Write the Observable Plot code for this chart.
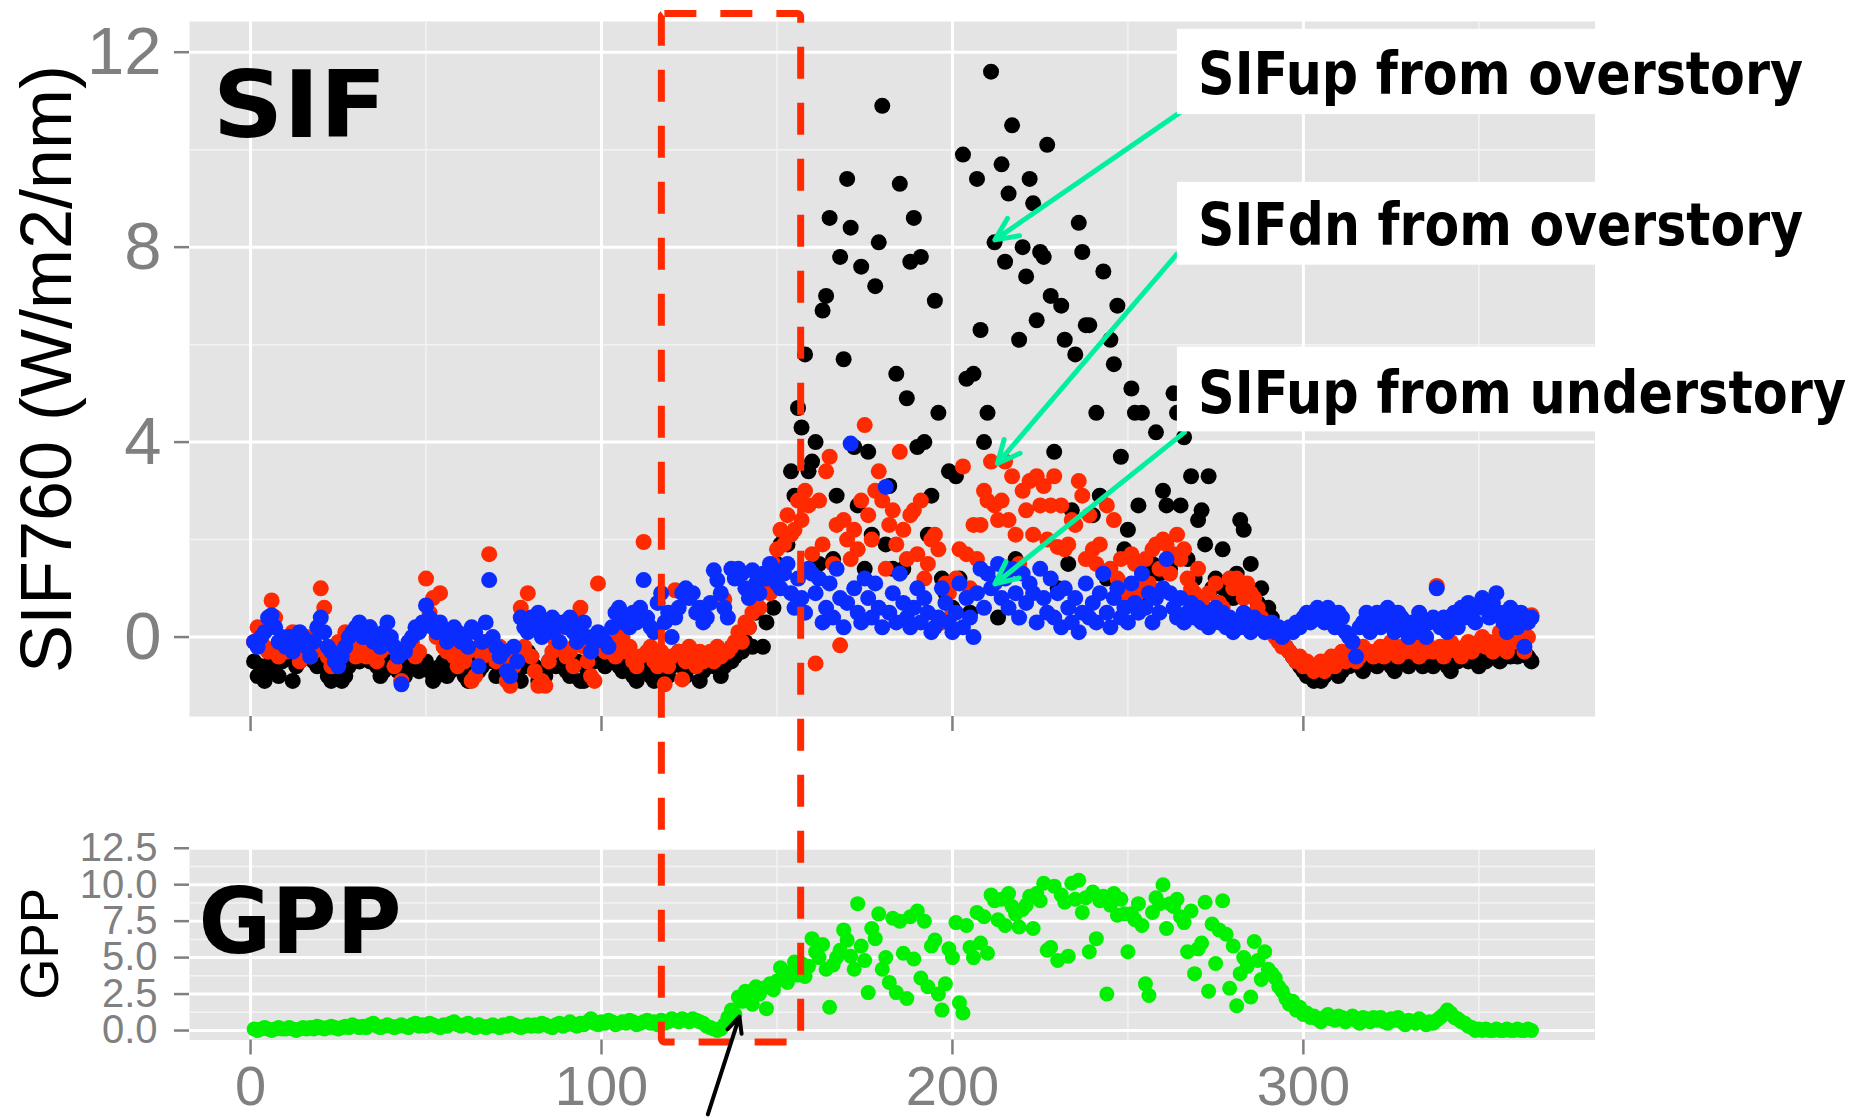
<!DOCTYPE html>
<html>
<head>
<meta charset="utf-8">
<script src="https://cdn.jsdelivr.net/npm/d3@7"></script>
<script src="https://cdn.jsdelivr.net/npm/@observablehq/plot@0.6"></script>
<style>
html, body { margin: 0; padding: 0; background: #fff; }
#fig { position: relative; width: 1849px; height: 1118px; overflow: hidden; background: #fff; }
#fig svg { position: absolute; left: 0; top: 0; }
</style>
</head>
<body>
<div id="fig"></div>
<script>
// ---------------- data (day of year 1..365) ----------------
const days = d3.range(1, 366);

// SIFup from overstory (black)
const sifUpOverstory = [
-0.5,-0.8,-0.6,-0.9,-0.7,-0.4,-0.6,-0.8,-0.5,-0.3,
-0.4,-0.9,-0.6,-0.5,-0.3,-0.4,-0.2,-0.5,-0.6,-0.4,
-0.6,-0.8,-0.9,-0.7,-0.5,-0.9,-0.8,-0.6,-0.4,-0.3,
-0.5,-0.4,-0.2,-0.5,-0.3,-0.6,-0.8,-0.7,-0.5,-0.6,
-0.4,-0.7,-0.9,-0.8,-0.6,-0.5,-0.4,-0.7,-0.6,-0.5,
-0.7,-0.9,-0.8,-0.6,-0.5,-0.8,-0.7,-0.6,-0.4,-0.5,
-0.8,-0.9,-0.6,-0.5,-0.7,-0.6,-0.4,-0.3,-0.5,-0.8,
-0.6,-0.4,-0.5,-0.7,-0.6,-0.8,-0.9,-0.6,-0.3,-0.4,
-0.6,-0.9,-0.7,-0.8,-0.5,-0.4,-0.6,-0.3,-0.5,-0.7,
-0.8,-0.6,-0.5,-0.9,-0.9,-0.7,-0.4,-0.5,-0.3,-0.4,
-0.6,-0.4,-0.5,-0.3,-0.6,-0.7,-0.5,-0.4,-0.8,-0.9,
-0.7,-0.6,-0.5,-0.8,-0.9,-0.6,-0.4,-0.7,-0.8,-0.6,
-0.5,-0.3,-0.6,-0.8,-0.5,-0.4,-0.6,-0.9,-0.7,-0.5,
-0.4,-0.6,-0.5,-0.8,-0.6,-0.3,-0.5,-0.4,-0.2,-0.3,
-0.1,0.2,-0.2,0.5,0.9,-0.2,0.3,1.2,0.6,1.5,
1.9,2.1,1.9,3.4,2.9,4.7,4.3,5.8,3.4,3.6,
4.0,1.5,6.7,7.0,8.6,1.6,2.9,7.8,5.7,9.4,
8.4,3.9,2.7,7.6,1.4,3.8,2.1,7.2,8.1,10.9,
1.9,3.1,1.4,5.4,9.3,1.4,4.9,7.7,8.6,3.9,
7.8,4.0,2.1,2.9,6.9,4.6,1.2,0.9,3.4,0.6,
3.3,1.2,9.9,5.3,0.5,5.4,9.4,6.3,4.0,4.6,
11.6,8.1,0.4,9.7,7.7,9.1,10.5,1.6,6.1,8.0,
7.4,9.4,8.9,6.5,7.9,7.8,10.1,7.0,3.8,1.0,
6.8,6.1,1.5,2.6,5.8,8.5,7.9,6.4,6.4,2.5,
4.6,2.9,7.5,1.2,6.1,5.6,6.8,3.7,1.8,2.2,
5.1,4.6,2.7,4.6,1.3,0.8,1.5,4.2,1.3,3.0,
2.7,1.4,5.0,4.6,2.7,4.1,1.6,3.3,1.2,2.4,
2.6,1.9,3.3,1.0,1.2,0.7,1.8,0.9,1.1,0.8,
1.3,2.4,2.2,1.0,1.5,0.9,0.7,1.0,0.5,0.6,
0.4,0.2,0.0,-0.1,-0.2,-0.3,-0.4,-0.5,-0.6,-0.7,
-0.8,-0.7,-0.9,-0.8,-0.9,-0.8,-0.7,-0.6,-0.7,-0.8,
-0.7,-0.5,-0.6,-0.5,-0.4,-0.6,-0.7,-0.5,-0.4,-0.5,
-0.6,-0.4,-0.5,-0.3,-0.6,-0.7,-0.5,-0.4,-0.5,-0.6,
-0.4,-0.3,-0.5,-0.6,-0.4,-0.5,-0.6,-0.3,-0.4,-0.5,
-0.6,-0.7,-0.4,-0.5,-0.4,-0.3,-0.5,-0.4,-0.3,-0.6,
-0.4,-0.5,-0.2,-0.3,-0.4,-0.5,-0.2,-0.3,-0.4,-0.3,
-0.4,-0.2,-0.3,-0.4,-0.5
];

// SIFdn from overstory (red)
const sifDnOverstory = [
-0.1,0.2,-0.1,-0.2,-0.3,0.75,0.4,-0.4,-0.1,-0.3,
-0.2,0.1,-0.3,-0.5,-0.1,0.0,-0.4,-0.3,-0.2,1.0,
0.6,-0.4,-0.6,-0.2,-0.1,-0.3,0.1,-0.2,0.0,-0.4,
-0.3,-0.1,-0.4,0.2,-0.2,-0.5,-0.3,-0.1,0.0,-0.2,
-0.6,-0.4,-0.9,-0.3,-0.2,-0.1,-0.4,-0.3,0.2,1.2,
0.5,0.8,0.0,0.9,-0.2,-0.3,-0.1,-0.4,-0.6,-0.2,
-0.5,-0.3,-0.9,-0.8,-0.2,-0.4,-0.1,1.7,-0.3,-0.5,
-0.2,-0.4,-0.9,-1.0,-0.6,-0.3,0.6,-0.2,0.9,-0.4,
-0.7,-1.0,-0.9,-1.0,-0.5,-0.3,-0.1,0.2,-0.2,-0.4,
-0.3,-0.6,0.3,0.6,-0.2,-0.5,-0.8,-0.9,1.1,-0.1,
-0.3,-0.2,-0.1,-0.4,-0.2,0.0,-0.3,-0.2,-0.5,-0.6,
-0.4,1.95,-0.3,-0.2,-0.5,-0.6,-0.3,-0.97,-0.6,-0.4,
0.96,-0.3,-0.87,-0.5,-0.2,-0.4,-0.6,-0.3,-0.5,-0.4,
-0.3,-0.5,-0.2,-0.4,0.77,-0.3,-0.2,-0.1,0.1,-0.1,
0.3,0.2,0.5,0.8,0.6,1.0,1.2,0.9,1.5,1.8,
2.2,1.9,2.5,2.1,2.2,2.8,2.4,3.0,2.7,1.7,
-0.54,2.8,1.9,3.4,3.7,1.5,2.3,-0.17,2.4,2.0,
1.6,2.2,1.8,2.8,4.35,2.5,2.0,3.0,3.4,2.8,
1.4,2.3,2.6,1.9,3.8,2.2,1.6,2.5,2.6,1.7,
2.8,1.2,1.5,2.0,2.1,1.8,0.3,1.1,0.9,0.5,
1.2,1.8,3.5,1.7,1.0,2.3,1.6,2.3,3.0,2.8,
3.6,2.7,2.4,2.8,3.6,2.4,3.3,2.1,1.5,3.0,
2.6,3.2,2.1,3.3,2.7,3.1,2.0,2.7,3.3,1.85,
2.7,1.8,1.9,2.4,2.3,3.2,2.9,1.6,2.5,1.8,
1.5,1.9,1.3,2.7,1.4,2.4,1.2,1.6,1.0,0.8,
1.7,1.5,0.9,1.2,1.6,1.1,1.8,1.9,1.4,2.0,
1.9,1.3,1.7,2.1,1.6,1.8,1.2,1.0,0.9,1.4,
0.8,0.6,0.9,0.5,1.1,0.7,0.6,0.4,1.2,1.0,
1.2,1.0,0.8,1.1,0.9,0.8,0.6,0.4,0.3,0.2,
0.1,0.0,-0.1,-0.2,-0.2,-0.3,-0.4,-0.5,-0.4,-0.6,
-0.5,-0.6,-0.7,-0.6,-0.5,-0.7,-0.5,-0.4,-0.6,-0.5,
-0.3,-0.5,-0.4,-0.3,-0.5,-0.4,-0.2,0.2,-0.3,-0.4,
-0.3,-0.2,-0.4,-0.3,-0.1,0.5,-0.4,-0.2,-0.3,-0.1,
-0.3,-0.2,-0.4,-0.1,-0.3,-0.2,-0.3,1.05,-0.2,-0.4,
-0.3,-0.1,-0.2,-0.3,-0.4,-0.2,-0.1,-0.3,-0.2,-0.1,
0.0,-0.2,-0.1,-0.3,-0.2,0.1,-0.2,-0.3,0.0,-0.1,
0.2,-0.1,-0.3,0.0,0.45
];

// SIFup from understory (blue)
const sifUpUnderstory = [
-0.1,-0.2,0.0,0.1,0.4,0.45,0.2,-0.1,0.0,-0.2,
0.0,-0.3,-0.1,0.1,0.0,-0.2,-0.4,-0.1,0.2,0.4,
0.1,-0.2,-0.3,-0.5,-0.6,-0.4,-0.2,0.0,0.1,0.2,
0.3,0.0,0.1,0.2,-0.1,0.0,-0.2,0.1,0.3,0.0,
-0.2,-0.4,-0.97,-0.3,-0.1,0.0,0.2,0.1,0.3,0.65,
0.4,0.2,0.1,0.3,0.1,-0.1,0.0,0.2,0.1,-0.1,
0.0,-0.2,0.2,0.1,-0.6,-0.1,0.3,1.17,0.0,-0.2,
-0.4,-0.3,-0.7,-0.8,-0.2,-0.5,0.4,0.2,0.1,0.4,
0.2,0.5,0.0,0.3,0.1,0.4,0.2,-0.1,0.3,0.2,
0.4,0.1,-0.1,0.2,0.3,0.0,-0.3,-0.1,0.1,0.0,
-0.1,-0.2,0.2,0.5,0.6,0.3,0.4,0.2,0.5,0.3,
0.6,1.17,0.4,0.2,0.1,0.7,0.9,0.3,0.5,0.0,
0.4,0.6,0.9,1.0,0.8,0.9,0.5,0.6,0.3,0.4,
0.7,1.37,1.17,0.9,0.6,0.4,1.4,1.2,1.4,1.3,
1.0,0.8,1.37,1.1,0.9,1.3,1.2,1.5,1.4,1.1,
1.0,1.3,1.5,0.9,0.6,1.2,0.8,0.5,1.4,1.3,
0.9,1.2,0.3,0.6,1.1,0.4,1.4,0.8,0.2,0.7,
3.97,1.0,0.5,0.3,1.2,0.8,0.4,1.1,0.6,0.2,
3.08,0.5,0.9,0.3,1.3,0.7,0.4,0.2,0.6,1.0,
0.3,0.8,0.5,0.1,0.2,0.4,1.0,0.7,0.3,0.1,
0.5,1.1,0.2,0.8,0.4,0.0,0.9,1.4,0.6,1.3,
1.0,1.1,1.5,0.8,1.2,0.6,1.4,0.9,0.4,1.3,
0.7,1.1,0.9,0.3,1.4,0.8,0.5,1.2,0.4,0.9,
0.2,1.0,0.6,0.3,0.8,0.1,0.5,1.1,0.4,0.7,
0.3,0.9,1.3,0.5,0.2,0.8,1.0,0.4,0.6,0.3,
1.1,0.7,0.5,1.3,0.6,0.9,0.3,0.8,0.5,1.0,
1.6,0.9,0.6,0.4,0.8,0.3,0.5,0.7,0.4,0.6,
0.3,0.5,0.2,0.4,0.6,0.3,0.5,0.2,0.4,0.1,
0.3,0.2,0.5,0.3,0.1,0.4,0.2,0.3,0.1,0.2,
0.3,0.1,0.2,0.0,0.1,0.2,0.1,0.3,0.2,0.4,
0.5,0.3,0.4,0.6,0.5,0.3,0.6,0.4,0.2,0.5,
0.4,0.1,0.0,-0.1,-0.4,0.2,0.3,0.5,0.1,0.3,
0.5,0.2,0.4,0.6,0.3,0.1,0.5,0.4,0.2,0.0,
0.3,0.1,0.5,0.2,0.0,0.3,0.4,1.0,0.2,0.4,
0.1,0.3,0.5,0.2,0.6,0.4,0.7,0.5,0.3,0.6,
0.8,0.6,0.4,0.7,0.9,0.5,0.3,0.1,0.6,0.4,
0.2,0.5,-0.2,0.3,0.4
];

// GPP (green)
const gpp = [
0.1,0.0,0.1,0.2,0.1,0.0,0.1,0.2,0.1,0.1,
0.2,0.1,0.0,0.1,0.2,0.1,0.2,0.1,0.3,0.2,
0.1,0.2,0.3,0.2,0.1,0.2,0.3,0.2,0.4,0.3,
0.2,0.3,0.2,0.4,0.5,0.3,0.2,0.3,0.4,0.3,
0.2,0.3,0.4,0.3,0.2,0.4,0.5,0.3,0.4,0.3,
0.5,0.4,0.3,0.2,0.4,0.3,0.5,0.6,0.4,0.3,
0.4,0.5,0.3,0.2,0.4,0.3,0.2,0.3,0.4,0.3,
0.2,0.4,0.3,0.5,0.4,0.3,0.2,0.3,0.4,0.3,
0.4,0.3,0.5,0.4,0.3,0.2,0.4,0.5,0.3,0.4,
0.6,0.4,0.3,0.5,0.4,0.6,0.8,0.5,0.4,0.6,
0.5,0.7,0.6,0.4,0.5,0.6,0.5,0.7,0.6,0.4,
0.5,0.6,0.7,0.5,0.6,0.4,0.7,0.5,0.6,0.8,
0.7,0.6,0.8,0.7,0.6,0.8,0.7,0.6,0.5,0.3,
0.2,0.1,0.0,0.1,0.4,0.9,1.4,1.1,2.3,2.0,
2.7,2.4,1.8,3.0,2.5,2.9,1.5,3.2,2.8,3.4,
4.3,3.9,3.3,4.0,4.7,3.8,4.6,3.7,4.4,6.3,
5.4,5.0,5.9,4.2,1.6,4.5,5.0,5.5,6.9,6.2,
5.1,4.2,8.7,5.8,4.8,2.6,7.0,6.3,8.0,4.2,
5.0,3.3,7.7,2.6,7.5,5.3,2.2,7.8,4.9,8.2,
3.6,7.5,3.0,5.8,6.2,2.5,1.4,3.2,5.6,5.0,
7.4,1.9,1.2,7.2,5.7,5.0,8.1,6.0,7.8,5.3,
9.3,8.9,7.6,9.0,7.2,9.4,8.5,8.0,7.1,8.3,
8.6,9.2,7.0,9.4,8.9,10.1,5.5,5.7,9.9,4.8,
9.3,8.8,5.1,10.1,9.0,10.3,8.1,9.1,5.4,9.5,
6.3,8.9,9.2,2.5,8.6,9.4,7.9,9.0,8.0,5.4,
8.0,7.6,8.7,7.2,3.2,2.4,8.1,9.1,8.7,10.0,
7.0,8.7,8.5,9.0,7.8,7.4,5.4,8.2,3.9,5.6,
6.0,8.8,2.7,7.3,4.6,6.9,8.9,6.6,2.9,5.8,
1.7,3.9,5.0,4.4,2.3,6.1,4.8,3.5,5.4,4.2,
3.9,3.6,3.0,2.7,2.2,1.8,2.0,1.4,1.6,1.1,
1.2,0.9,1.0,0.8,0.6,0.9,1.1,0.8,0.7,1.0,
0.9,0.6,0.8,1.0,0.7,0.5,0.9,0.8,0.6,0.9,
0.7,0.9,0.6,0.5,0.8,0.7,0.9,0.6,0.4,0.7,
0.6,0.5,0.8,0.6,0.4,0.6,0.5,0.7,0.9,1.1,
1.4,1.2,0.9,0.8,0.6,0.5,0.3,0.2,0.0,0.1,
0.0,0.1,0.0,0.0,0.1,0.0,0.0,0.1,0.0,0.0,
0.1,0.0,0.0,0.1,0.0
];

// tick values
const dayTicks = [0, 100, 200, 300];
const dayMinorTicks = [50, 150, 250, 350];
const sifTicks = [0, 4, 8, 12];
const sifMinorTicks = [2, 6, 10];
const gppTicks = [0, 2.5, 5, 7.5, 10, 12.5];
const gppMinorTicks = [1.25, 3.75, 6.25, 8.75, 11.25];

// annotation texts
const sifTitle = "SIF760 (W/m2/nm)";
const gppTitle = "GPP";
const panelTags = ["SIF", "GPP"];
const annotationLabels = ["SIFup from overstory", "SIFdn from overstory", "SIFup from understory"];

// ---------------- layout / style ----------------
const W = 1849, H = 1118;
const xDomain = [-17.4, 383.1];
const left = 189, right = W - 1594.5;
const panelBg = "#e4e4e4";
const gray = "#808080";
const sansFont = "'Liberation Sans', Arial, Helvetica, sans-serif";
const boldFont = "'DejaVu Sans', Verdana, sans-serif";
const arrowColor = "#00f0a0";

const sifRows = (vals, series) => days.map((d, i) => ({day: d, v: vals[i], s: series}));
const blackPts = sifRows(sifUpOverstory, "up-over");
const redPts = sifRows(sifDnOverstory, "dn-over");
const bluePts = sifRows(sifUpUnderstory, "up-under");
const gppPts = days.map((d, i) => ({day: d, v: gpp[i]}));

// annotation geometry (in data units of the SIF panel)
const annBoxes = [
  {x1: 264.1, x2: 470, y1: 10.72, y2: 12.47},
  {x1: 264.1, x2: 470, y1: 7.63, y2: 9.33},
  {x1: 264.1, x2: 470, y1: 4.21, y2: 5.95}
];
const annText = annotationLabels.map((t, i) => ({t, x: 270.0, y: [11.14, 8.04, 4.59][i]}));
const annWidths = [605, 605, 648];
const tagWidths = [174, 203];
const annArrows = [
  {x1: 268.4, y1: 10.94, x2: 212.1, y2: 8.15},
  {x1: 264.0, y1: 7.86, x2: 212.8, y2: 3.56},
  {x1: 266.1, y1: 4.2, x2: 212.1, y2: 1.09}
];

const topPlot = Plot.plot({
  width: W, height: H,
  marginLeft: left, marginRight: right, marginTop: 21, marginBottom: H - 716,
  style: {background: "transparent", fontFamily: sansFont, overflow: "visible"},
  x: {domain: xDomain},
  y: {domain: [-1.63, 12.63]},
  marks: [
    Plot.frame({fill: panelBg, stroke: null}),
    Plot.gridY(sifMinorTicks, {stroke: "#f3f3f3", strokeOpacity: 1, strokeWidth: 1.5}),
    Plot.gridX(dayMinorTicks, {stroke: "#f3f3f3", strokeOpacity: 1, strokeWidth: 1.5}),
    Plot.gridY(sifTicks, {stroke: "#ffffff", strokeOpacity: 1, strokeWidth: 3}),
    Plot.gridX(dayTicks, {stroke: "#ffffff", strokeOpacity: 1, strokeWidth: 3}),
    Plot.axisY(sifTicks, {tickSize: 15, tickPadding: 13, fontSize: 67, color: gray, strokeWidth: 2.5, label: null}),
    Plot.axisX(dayTicks, {tickSize: 15, tickFormat: () => "", color: gray, strokeWidth: 2.5, label: null}),
    Plot.text([sifTitle], {frameAnchor: "left", textAnchor: "middle", lineAnchor: "middle", rotate: -90, dx: -142, fontSize: 72, fill: "#000"}),
    Plot.dot(blackPts, {x: "day", y: "v", r: 8, fill: "#000000", stroke: null}),
    Plot.dot(redPts, {x: "day", y: "v", r: 8, fill: "#ff2a00", stroke: null}),
    Plot.dot(bluePts, {x: "day", y: "v", r: 8, fill: "#0a2cff", stroke: null}),
    Plot.text([{t: panelTags[0], x: -10.8, y: 10.25}], {x: "x", y: "y", text: "t", textAnchor: "start", lineAnchor: "bottom", fontSize: 93, fontWeight: "bold", fontFamily: boldFont, fill: "#000"}),
    Plot.arrow(annArrows, {x1: "x1", y1: "y1", x2: "x2", y2: "y2", stroke: arrowColor, strokeWidth: 5, headLength: 7.5, headAngle: 50}),
    Plot.rect(annBoxes, {x1: "x1", x2: "x2", y1: "y1", y2: "y2", fill: "#ffffff"}),
    Plot.text(annText, {x: "x", y: "y", text: "t", textAnchor: "start", lineAnchor: "bottom", fontSize: 58, fontWeight: "bold", fontFamily: boldFont, fill: "#000"})
  ]
});

// dashed highlight box and pointer (in GPP panel data units)
const highlight = [{x1: 117.2, x2: 156.9, y1: -0.82, y2: 69.7}];
const pointer = [{x1: 130.3, y1: -5.75, x2: 139.3, y2: 0.96}];

const bottomPlot = Plot.plot({
  width: W, height: H,
  marginLeft: left, marginRight: right, marginTop: 847, marginBottom: H - 1039.5,
  style: {background: "transparent", fontFamily: sansFont, overflow: "visible"},
  x: {domain: xDomain},
  y: {domain: [-0.65, 12.55]},
  marks: [
    Plot.frame({fill: panelBg, stroke: null}),
    Plot.gridY(gppMinorTicks, {stroke: "#f3f3f3", strokeOpacity: 1, strokeWidth: 1.5}),
    Plot.gridX(dayMinorTicks, {stroke: "#f3f3f3", strokeOpacity: 1, strokeWidth: 1.5}),
    Plot.gridY(gppTicks, {stroke: "#ffffff", strokeOpacity: 1, strokeWidth: 3}),
    Plot.gridX(dayTicks, {stroke: "#ffffff", strokeOpacity: 1, strokeWidth: 3}),
    Plot.axisY(gppTicks, {tickSize: 15, tickPadding: 17, fontSize: 40, color: gray, strokeWidth: 2.5, tickFormat: d3.format(".1f"), label: null}),
    Plot.axisX(dayTicks, {tickSize: 15, tickPadding: 10, fontSize: 56, color: gray, strokeWidth: 2.5, label: null}),
    Plot.text([gppTitle], {frameAnchor: "left", textAnchor: "middle", lineAnchor: "middle", rotate: -90, dx: -148, fontSize: 53, fill: "#000"}),
    Plot.dot(gppPts, {x: "day", y: "v", r: 7.5, fill: "#00f000", stroke: null}),
    Plot.text([{t: panelTags[1], x: -14.8, y: 5.3}], {x: "x", y: "y", text: "t", textAnchor: "start", lineAnchor: "bottom", fontSize: 91, fontWeight: "bold", fontFamily: boldFont, fill: "#000"}),
    Plot.rect(highlight, {x1: "x1", x2: "x2", y1: "y1", y2: "y2", fill: "none", stroke: "#ff2a00", strokeWidth: 7, strokeDasharray: "32,24", rx: 3}),
    Plot.arrow(pointer, {x1: "x1", y1: "y1", x2: "x2", y2: "y2", stroke: "#000", strokeWidth: 4, headLength: 6.5, headAngle: 50})
  ]
});

const fig = document.getElementById("fig");
fig.appendChild(topPlot);
fig.appendChild(bottomPlot);

// fit bold labels to the reference widths
const isBold = el => {
  const g = el.closest("[font-weight]");
  return g && g.getAttribute("font-weight") === "bold";
};
d3.select(topPlot).selectAll("text")
  .filter(function () { return annotationLabels.includes(this.textContent); })
  .attr("textLength", function () { return annWidths[annotationLabels.indexOf(this.textContent)]; })
  .attr("lengthAdjust", "spacingAndGlyphs");
[topPlot, bottomPlot].forEach(svg => d3.select(svg).selectAll("text")
  .filter(function () { return panelTags.includes(this.textContent) && isBold(this); })
  .attr("textLength", function () { return tagWidths[panelTags.indexOf(this.textContent)]; })
  .attr("lengthAdjust", "spacingAndGlyphs"));
</script>
</body>
</html>
